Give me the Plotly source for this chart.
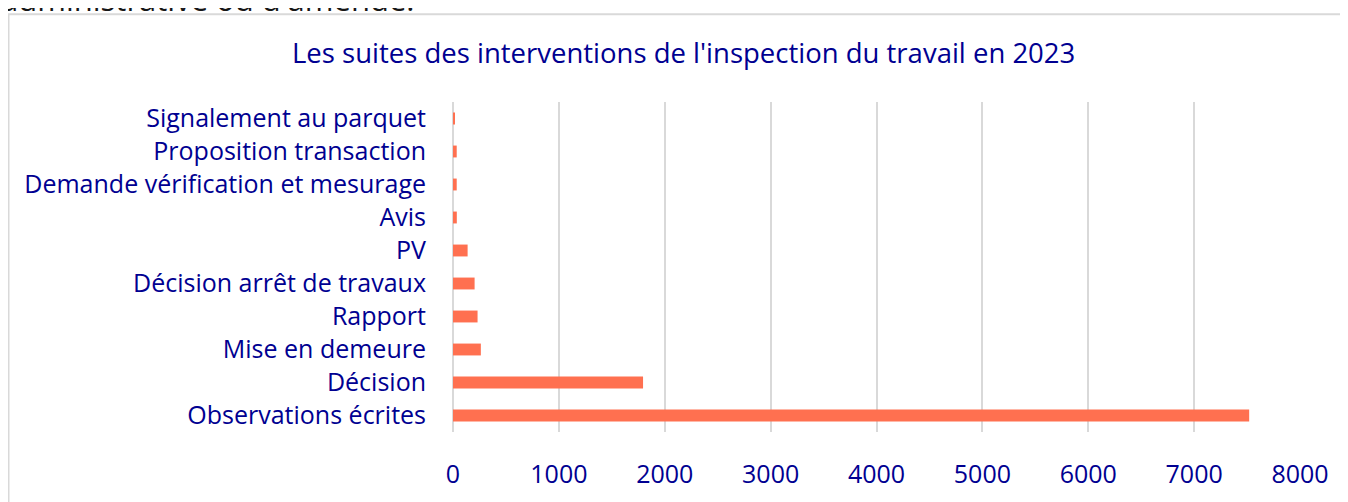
import plotly.graph_objects as go

categories = [
    "Observations écrites",
    "Décision",
    "Mise en demeure",
    "Rapport",
    "Décision arrêt de travaux",
    "PV",
    "Avis",
    "Demande vérification et mesurage",
    "Proposition transaction",
    "Signalement au parquet",
]
values = [7520, 1795, 263, 232, 204, 138, 36, 35, 35, 15]
x_ticks = [0, 1000, 2000, 3000, 4000, 5000, 6000, 7000, 8000]

title_text = "Les suites des interventions de l'inspection du travail en 2023"
page_text = "administrative ou d'amende."

# page has an 8px body margin: figure coords = page coords - 8
OFF = 8
W, H = 1348 - OFF, 502 - OFF
L, R, T, B = 453 - OFF, 48, 102 - OFF, 62
pw, ph = W - L - R, H - T - B

def px_x(p):
    return (p - OFF - L) / pw

def px_y(p):
    return (H - B - (p - OFF)) / ph

BLUE = "#000091"
FONT = "Open Sans"

fig = go.Figure(
    go.Bar(
        y=categories,
        x=values,
        orientation="h",
        marker=dict(color="#ff7050", line=dict(width=0)),
        width=0.36,
        hoverinfo="x+y",
    )
)

fig.update_layout(
    width=W,
    height=H,
    margin=dict(l=L, r=R, t=T, b=B),
    paper_bgcolor="white",
    plot_bgcolor="white",
    showlegend=False,
    font=dict(family=FONT, color=BLUE, size=24),
    xaxis=dict(
        range=[0, 8000],
        tickvals=x_ticks,
        ticktext=[str(v) for v in x_ticks],
        showgrid=True,
        gridcolor="#d9d9d9",
        gridwidth=2,
        zeroline=True,
        zerolinecolor="#d9d9d9",
        zerolinewidth=2,
        showline=False,
        ticks="",
        ticklabelstandoff=25,
        tickfont=dict(family=FONT, color=BLUE, size=25),
        fixedrange=True,
    ),
    yaxis=dict(
        categoryorder="array",
        categoryarray=categories,
        showgrid=False,
        zeroline=False,
        showline=False,
        ticks="",
        ticklabelstandoff=26,
        tickfont=dict(family=FONT, color=BLUE, size=25),
        range=[-0.5, len(categories) - 0.5],
        fixedrange=True,
    ),
    shapes=[
        dict(
            type="rect",
            xref="paper",
            yref="paper",
            x0=px_x(8.5),
            x1=px_x(1370),
            y0=px_y(530),
            y1=px_y(12),
            line=dict(color="#d9d9d9", width=2),
            fillcolor="rgba(0,0,0,0)",
            layer="below",
        )
    ],
    annotations=[
        dict(
            text=title_text,
            xref="paper",
            yref="paper",
            x=px_x(683),
            y=px_y(51),
            xanchor="center",
            yanchor="middle",
            showarrow=False,
            font=dict(family=FONT, color=BLUE, size=27.5),
        ),
        dict(
            text=page_text,
            xref="paper",
            yref="paper",
            x=px_x(-1),
            y=px_y(-4),
            xanchor="left",
            yanchor="middle",
            showarrow=False,
            font=dict(family=FONT, color="#161616", size=31),
        ),
    ],
)

fig.write_html("out.html")
